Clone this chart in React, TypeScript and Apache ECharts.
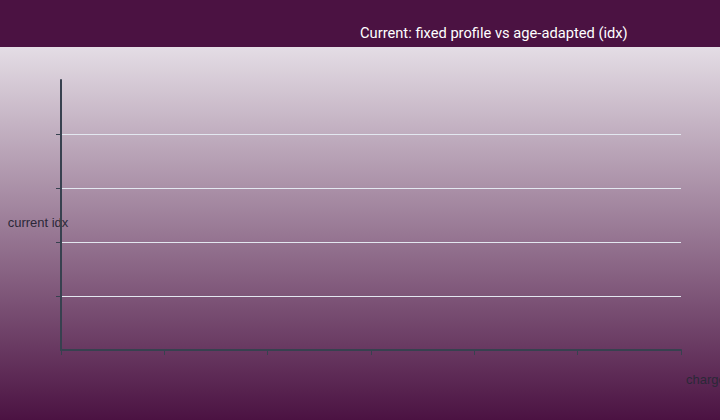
import React, { useEffect, useRef } from "react";
import * as echarts from "echarts";

const titleText = "Current: fixed profile vs age-adapted (idx)";
const xAxisName = "charge cycles";
const yAxisName = "current idx";
const xTicks = [0, 1, 2, 3, 4, 5, 6];
const yTicks = [0, 1, 2, 3, 4, 5];
const yTickMarks = [1, 2, 3, 4];
const seriesNames = ["fixed profile", "age-adapted"];
const fixedProfile: [number, number][] = [];
const ageAdapted: [number, number][] = [];

export default function App() {
  const ref = useRef<HTMLDivElement>(null);
  useEffect(() => {
    document.body.style.margin = "0";
    const chart = echarts.init(ref.current!, undefined, { renderer: "svg" });
    chart.setOption({
      animation: false,
      backgroundColor: "#4b1242",
      title: {
        text: titleText,
        left: 360,
        top: 25,
        padding: 0,
        textStyle: { color: "#ffffff", fontSize: 14.7, fontWeight: "normal", fontFamily: "Roboto" },
      },
      graphic: [
        {
          type: "rect",
          z: -10,
          shape: { x: 0, y: 47, width: 720, height: 373 },
          style: {
            fill: new echarts.graphic.LinearGradient(0, 0, 0, 1, [
              { offset: 0, color: "#e4dde5" },
              { offset: 1, color: "#4b1242" },
            ]),
          },
        },
      ],
      grid: { left: 61, right: 39, top: 80, bottom: 70, containLabel: false, outerBoundsMode: "none" },
      xAxis: {
        type: "value",
        min: xTicks[0],
        max: xTicks[xTicks.length - 1],
        interval: 1,
        name: xAxisName,
        nameLocation: "end",
        nameGap: 5,
        nameTextStyle: {
          color: "#2b2838",
          fontSize: 13,
          fontFamily: "Liberation Sans",
          align: "left",
          verticalAlign: "top",
          padding: [23, 0, 0, 0],
        },
        axisLine: { show: true, lineStyle: { color: "#37414f", width: 2 } },
        axisTick: { show: true, length: 5, lineStyle: { color: "#37414f", width: 1 } },
        axisLabel: { show: false },
        splitLine: { show: false },
      },
      yAxis: {
        type: "value",
        min: yTicks[0],
        max: yTicks[yTicks.length - 1],
        interval: 1,
        name: yAxisName,
        nameLocation: "middle",
        nameRotate: 0,
        nameGap: 23,
        nameTextStyle: {
          color: "#2b2838",
          fontSize: 13,
          fontFamily: "Liberation Sans",
          align: "center",
          verticalAlign: "top",
          padding: [1, 0, 0, 0],
        },
        axisLine: { show: true, lineStyle: { color: "#37414f", width: 2 } },
        axisTick: { show: true, length: 5, customValues: yTickMarks, lineStyle: { color: "#37414f", width: 1 } },
        axisLabel: { show: false },
        splitLine: {
          show: true,
          lineStyle: { color: "#e3e8f0", width: 1 },
        },
      },
      series: [
        { name: seriesNames[0], type: "line", data: fixedProfile, showSymbol: false },
        { name: seriesNames[1], type: "line", data: ageAdapted, showSymbol: false },
      ],
    });
    return () => chart.dispose();
  }, []);
  return <div ref={ref} style={{ width: 720, height: 420 }} />;
}
